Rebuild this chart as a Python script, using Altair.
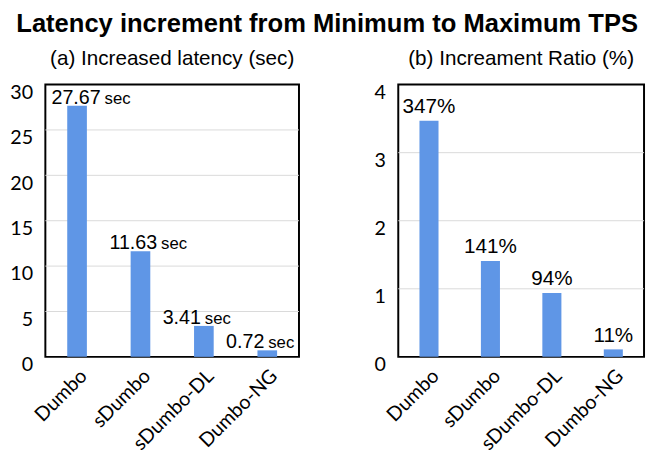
import altair as alt
import pandas as pd

# ---- data ----
systems = ["Dumbo", "sDumbo", "sDumbo-DL", "Dumbo-NG"]
latency_sec = [27.67, 11.63, 3.41, 0.72]
latency_labels = ["27.67", "11.63", "3.41", "0.72"]
ratio = [3.47, 1.41, 0.94, 0.11]
ratio_labels = ["347%", "141%", "94%", "11%"]
unit = "sec"
left_ticks = [0, 5, 10, 15, 20, 25, 30]
right_ticks = [0, 1, 2, 3, 4]

# style: horizontal nudge (px) of each latency label relative to its bar centre
label_nudge = [24, 17, -3, -3]

df_a = pd.DataFrame({"system": systems, "value": latency_sec,
                     "label": latency_labels, "unit": [unit] * len(systems)})
df_b = pd.DataFrame({"system": systems, "value": ratio, "label": ratio_labels})

BAR = "#5F96E6"
GRID = "#D9D9D9"
TICK_FONT = "Lato"
LABEL_FONT = "Liberation Sans"


def x_enc():
    return alt.X(
        "system:N", sort=systems, title=None,
        scale=alt.Scale(paddingInner=0.69, paddingOuter=0.345),
        axis=alt.Axis(labelAngle=-45, labelFont=TICK_FONT, labelFontSize=20,
                      labelColor="black", ticks=False, domain=False,
                      labelPadding=9, grid=False),
    )


def y_axis(ticks):
    return alt.Axis(values=ticks, format="d", labelFont=TICK_FONT, labelFontSize=20,
                    labelColor="black", ticks=False, domain=False,
                    labelPadding=13, labelOffset=8, grid=False)


def y_scale(domain):
    return alt.Scale(domain=domain, nice=False, zero=True)


def grid_layer(ticks, domain):
    inner = ticks[1:-1]
    return alt.Chart(pd.DataFrame({"value": inner})).mark_rule(
        color=GRID, strokeWidth=1).encode(
        y=alt.Y("value:Q", title=None, axis=y_axis(ticks), scale=y_scale(domain)))


# ---- panel (a) ----
base_a = alt.Chart(df_a)
bars_a = base_a.mark_bar(color=BAR).encode(
    x=x_enc(), y=alt.Y("value:Q", title=None, axis=y_axis(left_ticks), scale=y_scale([0, 30])))

label_layers = []
for sys_name, nudge in zip(systems, label_nudge):
    sel = base_a.transform_filter(alt.datum.system == sys_name)
    label_layers.append(sel.mark_text(
        align="right", baseline="alphabetic", dx=nudge, dy=-2,
        font=LABEL_FONT, fontSize=20, color="black").encode(
        x=alt.X("system:N", sort=systems), y="value:Q", text="label:N"))
    label_layers.append(sel.mark_text(
        align="left", baseline="alphabetic", dx=nudge + 4, dy=-2,
        font=LABEL_FONT, fontSize=17, color="black").encode(
        x=alt.X("system:N", sort=systems), y="value:Q", text="unit:N"))

panel_a = alt.layer(grid_layer(left_ticks, [0, 30]), bars_a, *label_layers).properties(
    width=258, height=277,
    title=alt.Title("(a) Increased latency (sec)", font=LABEL_FONT, fontSize=21,
                    fontWeight="normal", color="black", offset=14, anchor="middle"),
)

# ---- panel (b) ----
base_b = alt.Chart(df_b)
bars_b = base_b.mark_bar(color=BAR).encode(
    x=x_enc(), y=alt.Y("value:Q", title=None, axis=y_axis(right_ticks), scale=y_scale([0, 4])))
num_b = base_b.mark_text(align="center", baseline="alphabetic", dy=-8,
                         font=LABEL_FONT, fontSize=21, color="black").encode(
    x=alt.X("system:N", sort=systems), y="value:Q", text="label:N")
panel_b = alt.layer(grid_layer(right_ticks, [0, 4]), bars_b, num_b).properties(
    width=250, height=277,
    title=alt.Title("(b) Increament Ratio (%)", font=LABEL_FONT, fontSize=21,
                    fontWeight="normal", color="black", offset=14, anchor="middle"),
)

chart = alt.hconcat(panel_a, panel_b, spacing=73).resolve_scale(y="independent").properties(
    title=alt.Title("Latency increment from Minimum to Maximum TPS",
                    font="Liberation Sans", fontSize=26,
                    fontWeight="bold", color="black", anchor="middle", offset=10),
    padding={"left": 0, "right": 0, "top": 0, "bottom": 0},
).configure_view(stroke="black", strokeWidth=2)

chart.save("out.html", embed_options={"renderer": "svg", "actions": False})
